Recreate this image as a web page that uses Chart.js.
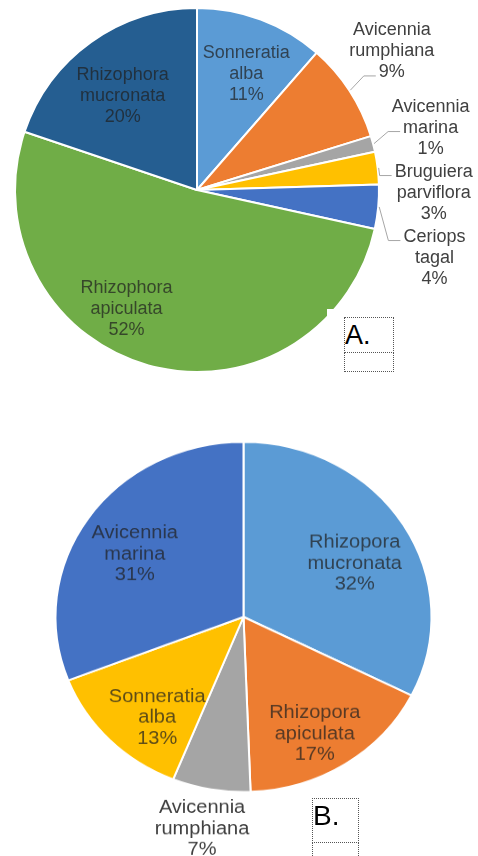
<!DOCTYPE html>
<html>
<head>
<meta charset="utf-8">
<script src="https://cdn.jsdelivr.net/npm/chart.js@4.4.1/dist/chart.umd.min.js"></script>
<style>
  html, body { margin: 0; padding: 0; background: #fff; }
  body { width: 478px; height: 856px; position: relative; overflow: hidden; font-family: "Liberation Sans", Arial, sans-serif; }
  #wrapA { position: absolute; left: 0; top: 0; width: 478px; height: 400px; }
  #wrapB { position: absolute; left: 0; top: 420px; width: 478px; height: 470px; transform: scaleY(0.931); transform-origin: 0 0; }
  .tag { position: absolute; border: 1px dotted #555; color: #000; line-height: 1; }
  .cover { position: absolute; background: #fff; }
</style>
</head>
<body>
<div id="wrapA"><canvas id="chartA" width="478" height="400"></canvas></div>
<div id="wrapB"><canvas id="chartB" width="478" height="470"></canvas></div>

<div class="cover" style="left:327px; top:309px; width:80px; height:70px;"></div>
<div class="tag" style="left:344px; top:317px; width:48px; height:34px; font-size:27px;"><span style="position:absolute; left:0; top:4px;">A.</span></div>
<div class="tag" style="left:344px; top:352px; width:48px; height:18px;"></div>

<div class="tag" style="left:312px; top:798px; width:45px; height:43px; font-size:28px;"><span style="position:absolute; left:0; top:3px;">B.</span></div>
<div class="tag" style="left:312px; top:842px; width:45px; height:20px;"></div>

<script>
// chart A
const speciesA = ["Sonneratia alba", "Avicennia rumphiana", "Avicennia marina", "Bruguiera parviflora", "Ceriops tagal", "Rhizophora apiculata", "Rhizophora mucronata"];
const valuesA = [11.4, 8.8, 1.4, 2.9, 3.9, 51.7, 19.8];
const colorsA = ["#5B9BD5", "#ED7D31", "#A5A5A5", "#FFC000", "#4472C4", "#70AD47", "#255E91"];

// chart B
const speciesB = ["Rhizopora mucronata", "Rhizopora apiculata", "Avicennia rumphiana", "Sonneratia alba", "Avicennia marina"];
const valuesB = [32.4, 17.0, 6.7, 13.0, 30.9];
const colorsB = ["#5B9BD5", "#ED7D31", "#A5A5A5", "#FFC000", "#4472C4"];

// draws the "name / pct%" labels, inside or outside with leader lines
const sliceLabels = {
  id: "sliceLabels",
  afterDatasetsDraw(chart, args, opts) {
    const ctx = chart.ctx;
    const ds = chart.data.datasets[0];
    const total = ds.data.reduce((a, b) => a + b, 0);
    const arcs = chart.getDatasetMeta(0).data;
    const placed = [];

    arcs.forEach((arc, i) => {
      const { x, y, startAngle, endAngle, outerRadius } = arc.getProps(["x", "y", "startAngle", "endAngle", "outerRadius"], true);
      const mid = (startAngle + endAngle) / 2;
      const lines = chart.data.labels[i].split(" ");
      lines.push(Math.round(ds.data[i] / total * 100) + "%");
      const outside = opts.outside.includes(i);
      const d = outerRadius * (outside ? opts.outRadius : opts.inRadius);
      const nudge = (opts.nudge && opts.nudge[i]) || [0, 0];
      let lx = x + Math.cos(mid) * d + nudge[0];
      let ly = y + Math.sin(mid) * d + nudge[1];
      if (outside) {
        // push down so stacked outside labels do not overlap
        placed.forEach(p => { if (Math.abs(p - ly) < opts.gap) ly = p + opts.gap; });
        placed.push(ly);
      }
      ctx.save();
      ctx.font = opts.size + "px 'Liberation Sans', Arial, sans-serif";
      ctx.textAlign = "center";
      ctx.textBaseline = "middle";
      ctx.fillStyle = outside ? opts.outColor : opts.inColor;
      const top = ly - (lines.length - 1) * opts.lineHeight / 2;
      lines.forEach((t, k) => ctx.fillText(t, lx, top + k * opts.lineHeight));

      if (outside && opts.leader) {
        const ex = x + Math.cos(mid) * (outerRadius + 1);
        const ey = y + Math.sin(mid) * (outerRadius + 1);
        let k = lines.findIndex((t, n) => top + n * opts.lineHeight >= ey - 25);
        if (k < 0) k = lines.length - 1;
        const lineY = top + k * opts.lineHeight;
        const left = lx - ctx.measureText(lines[k]).width / 2 - 3;
        ctx.strokeStyle = "#A6A6A6";
        ctx.lineWidth = 1;
        ctx.beginPath();
        ctx.moveTo(ex, ey);
        ctx.lineTo(left - 12, lineY + 4);
        ctx.lineTo(left, lineY + 4);
        ctx.stroke();
      }
      ctx.restore();
    });
  }
};

function makePie(id, labels, values, colors, radius, padding, labelOpts) {
  return new Chart(document.getElementById(id), {
    type: "pie",
    data: {
      labels: labels,
      datasets: [{
        data: values,
        backgroundColor: colors,
        borderColor: "#ffffff",
        borderWidth: 2,
        radius: radius
      }]
    },
    options: {
      responsive: false,
      animation: false,
      layout: { padding: padding },
      plugins: {
        legend: { display: false },
        tooltip: { enabled: false },
        sliceLabels: labelOpts
      }
    },
    plugins: [sliceLabels]
  });
}

makePie("chartA", speciesA, valuesA, colorsA, 182,
  { left: 0, right: 84, top: 0, bottom: 20 },
  {
    outside: [1, 2, 3, 4], inRadius: 0.71, outRadius: 1.31, gap: 65,
    size: 18, lineHeight: 21, leader: true,
    inColor: "rgba(32,32,32,0.72)", outColor: "#404040",
    nudge: { 0: [4, 5], 1: [-5, -9], 2: [3, -2], 5: [-36, -5], 6: [1, 11] }
  });

makePie("chartB", speciesB, valuesB, colorsB, 188,
  { left: 9, right: 0, top: 0, bottom: 47 },
  {
    outside: [2], inRadius: 0.72, outRadius: 1.22, gap: 66,
    size: 20, lineHeight: 22.5, leader: false,
    inColor: "rgba(32,32,32,0.72)", outColor: "#404040",
    nudge: { 0: [-4, 14], 1: [-2, 12], 2: [-2, 2], 3: [10, 13], 4: [3, 9] }
  });
</script>
</body>
</html>
